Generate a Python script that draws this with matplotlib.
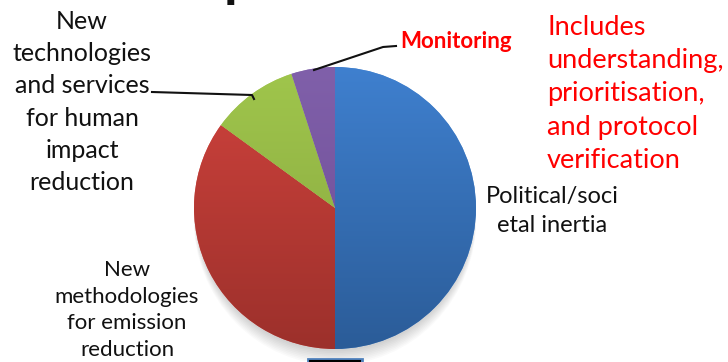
import numpy as np
import matplotlib.pyplot as plt
import matplotlib.colors as mcolors
from matplotlib.patches import Rectangle, Ellipse

# ===== DATA =====
categories = ['Political/societal inertia',
              'New methodologies for emission reduction',
              'New technologies and services for human impact reduction',
              'Monitoring']
shares = [50, 35, 10, 5]
# light (top) and dark (bottom) tone for each slice
tops = ['#3f80cf', '#d0433d', '#a0c64c', '#8060aa']
bottoms = ['#2b5c98', '#9c302b', '#86a43f', '#6c4b93']

W, H = 728, 362
plt.rcParams['font.family'] = ['Lato', 'DejaVu Sans']

fig = plt.figure(figsize=(W / 100, H / 100), dpi=100)

def fx(x):
    return x / W

def fy(y):
    return 1 - y / H

# pie axes, centre (335, 208), radius 141 px
cx, cy, r = 335, 208, 141
ax = fig.add_axes([fx(cx - r), fy(cy + r + 12), 2 * r / W, (2 * r + 12) / H])
ax.axis('off')

# soft shadow under the pie
for k in range(10):
    ax.add_patch(Ellipse((0, -0.02 - 0.006 * k), 1.97 + 0.004 * k, 1.97 + 0.012 * k,
                         color='black', alpha=0.02, lw=0, zorder=0))

wedges, _ = ax.pie(shares, startangle=90, counterclock=False, radius=1,
                   colors=tops, wedgeprops=dict(lw=0.4, edgecolor='#ffffff55'))

# vertical gradient fill clipped to each wedge
grad = np.linspace(0, 1, 256).reshape(-1, 1)
for w, c1, c2 in zip(wedges, tops, bottoms):
    cmap = mcolors.LinearSegmentedColormap.from_list('g', [c1, c2])
    im = ax.imshow(grad, cmap=cmap, extent=[-1, 1, -1, 1], origin='upper',
                   aspect='auto', zorder=2)
    im.set_clip_path(w)

ax.set_aspect('auto')
ax.set_xlim(-1.0, 1.0)
ax.set_ylim(-1.0 - 24 / (2 * r), 1.0)

# ===== TEXTS =====
black = '#111111'
fig.text(fx(82), fy(102), 'New\ntechnologies\nand services\nfor human\nimpact\nreduction',
         ha='center', va='center', fontsize=18, color=black, linespacing=1.48)
fig.text(fx(127), fy(310), 'New\nmethodologies\nfor emission\nreduction',
         ha='center', va='center', fontsize=16, color=black, linespacing=1.43)
fig.text(fx(552), fy(211), 'Political/soci\netal inertia',
         ha='center', va='center', fontsize=17, color=black, linespacing=1.5)
fig.text(fx(456), fy(42), 'Monitoring', ha='center', va='center',
         fontsize=16, fontweight='bold', color='#ff0000')
fig.text(fx(547), fy(94), 'Includes\nunderstanding,\nprioritisation,\nand protocol\nverification',
         ha='left', va='center', fontsize=19.5, color='#ff0000', linespacing=1.42)

# cut-off title at the very top
fig.text(fx(335), fy(-4), 'potential', ha='center', va='baseline',
         fontsize=40, fontweight='bold', color=black)

# leader lines
fig.add_artist(plt.Line2D([fx(152), fx(252), fx(254)], [fy(92), fy(95), fy(99)],
                          color=black, lw=1.5))
fig.add_artist(plt.Line2D([fx(314), fx(383), fx(396)], [fy(70), fy(47), fy(46)],
                          color=black, lw=1.5))

# small box cut at the bottom edge
fig.add_artist(Rectangle((fx(308), fy(366)), (362 - 308) / W, 7 / H,
                         facecolor='white', edgecolor='#4f81bd', lw=2))
fig.add_artist(plt.Line2D([fx(310), fx(360)], [fy(361), fy(361)], color='black', lw=1.5))

fig.savefig('out.png', dpi=100)
